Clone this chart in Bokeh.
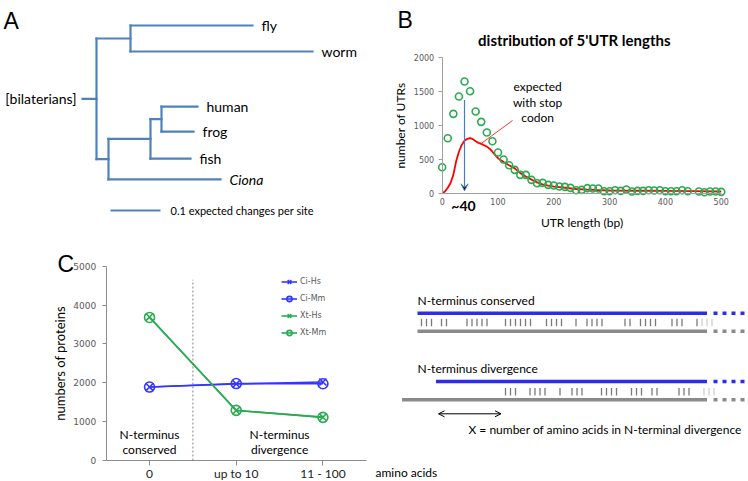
from bokeh.plotting import figure
from bokeh.models import (Range1d, Arrow, VeeHead, OpenHead, Legend, LegendItem,
                          FixedTicker, LinearAxis)
from bokeh.layouts import column, row
from bokeh.embed import file_html
from bokeh.resources import INLINE
from bokeh.core.properties import value

# ---------------- data ----------------
# Panel A: phylogenetic tree (branch lengths in expected changes per site)
tree_nodes = ["root", "prot", "fly", "worm", "deut", "vert", "hf", "human", "frog", "fish", "Ciona"]
tree_parent = [None, "root", "prot", "prot", "root", "deut", "vert", "hf", "hf", "vert", "deut"]
tree_length = [0.028, 0.068, 0.244, 0.364, 0.024, 0.084, 0.022, 0.072, 0.064, 0.080, 0.224]
leaf_rows = {"fly": 0.0, "worm": 1.0, "human": 3.12, "frog": 4.08, "fish": 5.12, "Ciona": 5.92}
root_label = "[bilaterians]"
scale_bar_length = 0.1
scale_bar_text = "0.1 expected changes per site"

# Panel B: 5'UTR length distribution
utr_len = [0, 10, 20, 30, 40, 50, 60, 70, 80, 90,
           100, 110, 120, 130, 140, 150, 160, 170, 180, 190,
           200, 210, 220, 230, 240, 250, 260, 270, 280, 290,
           300, 310, 320, 330, 340, 350, 360, 370, 380, 390,
           400, 410, 420, 430, 440, 460, 470, 480, 490, 500]
utr_count = [382, 809, 1167, 1422, 1642, 1500, 1201, 1049, 892, 765,
             598, 495, 412, 343, 270, 270, 196, 147, 152, 123,
             113, 98, 93, 78, 44, 49, 74, 69, 69, 29,
             29, 44, 34, 54, 25, 34, 34, 44, 39, 44,
             29, 29, 29, 44, 29, 25, 15, 25, 25, 20]
exp_len = [0, 5, 10, 15, 20, 25, 30, 35, 40, 45, 50, 55, 60, 65, 70, 75, 80, 85, 90, 95,
           100, 110, 120, 130, 140, 150, 160, 170, 180, 190, 200, 220, 240, 260, 280,
           300, 350, 400, 450, 500]
exp_count = [0, 25, 80, 150, 270, 470, 610, 710, 770, 800, 810, 795, 765, 740, 725, 705, 685, 655, 610, 560,
             515, 460, 410, 365, 295, 245, 200, 160, 130, 112, 98, 80, 62, 52, 46,
             40, 36, 33, 30, 25]
peak_len = 40
peak_arrow_top = 1370
b_xticks = [0, 100, 200, 300, 400, 500]
b_yticks = [0, 500, 1000, 1500, 2000]
b_title = "distribution of 5'UTR lengths"
exp_text = ["expected", "with stop", "codon"]
exp_text_x = 171
exp_text_y = [1568, 1340, 1112]
exp_pointer_x = [126, 70]
exp_pointer_y = [1069, 731]

# Panel C: numbers of proteins
c_categories = ["0", "up to 10", "11 - 100"]
ci_hs = [1890, 1970, 2020]
ci_mm = [1890, 1980, 1975]
xt_hs = [3690, 1285, 1115]
xt_mm = [3680, 1290, 1110]
c_yticks = [0, 1000, 2000, 3000, 4000, 5000]

# Panel D: schematic alignment (positions in residues)
conserved_marks = [1, 2, 3, 5, 6, 10.1, 11.1, 12.1, 13.1, 14.1,
                   17.8, 18.8, 19.8, 20.8, 21.8, 22.8, 26, 27, 28, 29, 31.9,
                   34.1, 35.1, 36.1, 37.1, 41.7, 42.7, 44.8, 45.8, 46.8, 47.8,
                   51.1, 52.1, 53.1, 56.1]
conserved_faint = [57.1, 58.1, 59.1]
divergence_marks = [17.8, 18.8, 19.8, 22.7, 23.7, 24.7, 25.7, 28.7, 31.1, 32.1, 33.1,
                    37, 38, 39, 40, 43, 44, 45, 47.1, 48.1, 52.5, 53.5, 54.5]
divergence_faint = [57.5, 58.5, 59.5]
blue_start = [0.2, 3.9]
gray_start = [0.2, -2.9]
aligned_end = 58.1
tail_start = 59.4
tail_end = 66.4
divergent_span = [4.4, 16.9]

TREE_BLUE = "#4f81bd"
GREEN = "#2aab52"
CBLUE = "#3535ff"
DBLUE = "#2b2bf2"
DGRAY = "#8a8a8a"
TICKGRAY = "#595959"
AXGRAY = "#a0a0a0"


def base_fig(w, h, xr, yr):
    p = figure(width=w, height=h, x_range=xr, y_range=yr, output_backend="svg",
               toolbar_location=None, min_border=0, x_axis_location=None, y_axis_location=None)
    p.grid.visible = False
    p.outline_line_color = None
    return p


def letter(p, x, y, text):
    p.text(x=[x], y=[y], text=[text], text_font=value("Liberation Sans"), text_font_size="23px",
           text_baseline="alphabetic", text_align="left", text_color="black")


def style_axis(ax, font, size, color, label_size="12px"):
    ax.minor_tick_line_color = None
    ax.major_label_text_font = font
    ax.major_label_text_font_size = size
    ax.major_label_text_color = color
    ax.axis_label_text_font = "Lato"
    ax.axis_label_text_font_size = label_size
    ax.axis_label_text_font_style = "normal"
    ax.axis_label_text_color = "black"


# ---------------- Panel A ----------------
pA = base_fig(374, 240, Range1d(-0.164, 0.584), Range1d((240 - 25) / 26, -25 / 26))

length = dict(zip(tree_nodes, tree_length))
parent = dict(zip(tree_nodes, tree_parent))
children = {n: [] for n in tree_nodes}
for n, pa in zip(tree_nodes, tree_parent):
    if pa:
        children[pa].append(n)
xpos, ypos = {}, {}


def set_x(n, base):
    xpos[n] = base + length[n]
    for c in children[n]:
        set_x(c, xpos[n])


def set_y(n):
    if not children[n]:
        ypos[n] = leaf_rows[n]
    else:
        ys = [set_y(c) for c in children[n]]
        ypos[n] = sum(ys) / len(ys)
    return ypos[n]


set_x("root", 0.0)
set_y("root")

hx0, hx1, hy = [], [], []
for n in tree_nodes:
    hx0.append(xpos[parent[n]] if parent[n] else 0.0)
    hx1.append(xpos[n])
    hy.append(ypos[n])
vx, vy0, vy1 = [], [], []
for n in tree_nodes:
    if children[n]:
        cy = [ypos[c] for c in children[n]]
        vx.append(xpos[n]); vy0.append(min(cy)); vy1.append(max(cy))
pA.segment(x0=hx0, y0=hy, x1=hx1, y1=hy, line_color=TREE_BLUE, line_width=2.2, line_cap="square")
pA.segment(x0=vx, y0=vy0, x1=vx, y1=vy1, line_color=TREE_BLUE, line_width=2.2, line_cap="square")

leaves = [n for n in tree_nodes if not children[n]]
normal_leaves = [n for n in leaves if n != "Ciona"]
pA.text(x=[xpos[n] for n in normal_leaves], y=[ypos[n] for n in normal_leaves], text=normal_leaves,
        x_offset=9, text_font=value("Lato"), text_font_size="14px", text_baseline="middle",
        text_color="black")
pA.text(x=[xpos["Ciona"]], y=[ypos["Ciona"]], text=["Ciona"], x_offset=9,
        text_font=value("Lato"), text_font_size="14px", text_font_style="italic",
        text_baseline="middle", text_color="black")
pA.text(x=[0.0], y=[ypos["root"]], text=[root_label], x_offset=-6, text_align="right",
        text_font=value("Lato"), text_font_size="14px", text_baseline="middle", text_color="black")
sb_y = (210 - 25) / 26
sb_x0 = 0.056
pA.segment(x0=[sb_x0], y0=[sb_y], x1=[sb_x0 + scale_bar_length], y1=[sb_y],
           line_color=TREE_BLUE, line_width=2.2)
pA.text(x=[sb_x0 + scale_bar_length], y=[sb_y], text=[scale_bar_text], x_offset=10,
        text_font=value("Lato"), text_font_size="11px", text_baseline="middle", text_color="black")
letter(pA, -0.158, -0.19, "A")

# ---------------- Panel B ----------------
pB = base_fig(374, 240, Range1d(-121.3, 548.9), Range1d(-695.6, 2833.8))
bx = LinearAxis(fixed_location=0, bounds=(0, 500), ticker=FixedTicker(ticks=b_xticks),
                axis_label="UTR length (bp)")
style_axis(bx, "DejaVu Sans", "8px", TICKGRAY)
bx.axis_line_color = AXGRAY
bx.major_tick_line_color = None
bx.major_tick_out = 0
bx.major_tick_in = 0
bx.major_label_standoff = 5
bx.axis_label_standoff = 6
pB.add_layout(bx, "below")
by = LinearAxis(fixed_location=0, bounds=(0, 2000), ticker=FixedTicker(ticks=b_yticks),
                axis_label="number of UTRs")
style_axis(by, "DejaVu Sans", "8px", TICKGRAY)
by.axis_line_color = AXGRAY
by.major_tick_line_color = AXGRAY
by.major_tick_out = 4
by.major_tick_in = 0
by.major_label_standoff = 4
by.axis_label_standoff = 3
pB.add_layout(by, "left")

pB.line(exp_len, exp_count, line_color="#ff0000", line_width=1.8)
pB.line(exp_pointer_x, exp_pointer_y, line_color="#ff0000", line_width=0.8)
pB.scatter(utr_len, utr_count, marker="circle", size=7, fill_color=None,
           line_color=GREEN, line_width=1.6)
pB.add_layout(Arrow(end=VeeHead(size=7, line_color="#4a7ebb", line_width=1),
                    x_start=peak_len, y_start=peak_arrow_top, x_end=peak_len, y_end=35,
                    line_color="#4a7ebb", line_width=1.2))
pB.text(x=[exp_text_x] * 3, y=exp_text_y, text=exp_text, text_align="center",
        text_baseline="middle", text_font=value("Lato"), text_font_size="12px", text_color="black")
pB.text(x=[peak_len], y=[-181], text=["~" + str(peak_len)], x_offset=-1, text_align="center",
        text_baseline="alphabetic", text_font=value("Lato"), text_font_size="14px",
        text_font_style="bold", text_color="black")
pB.text(x=[237], y=[2246], text=[b_title], text_align="center", text_baseline="alphabetic",
        text_font=value("Lato"), text_font_size="15px", text_font_style="bold", text_color="black")
letter(pB, -80.1, 2540, "B")

# ---------------- Panel C ----------------
pC = base_fig(374, 241, Range1d(-1.719, 2.595), Range1d(-540, 5660))
c_x = list(range(len(c_categories)))
cx = LinearAxis(fixed_location=0, bounds=(-0.5, 2.5), ticker=FixedTicker(ticks=c_x))
style_axis(cx, "Lato", "12px", "#222222")
cx.major_label_overrides = {i: c for i, c in zip(c_x, c_categories)}
cx.major_tick_out = 5
cx.major_tick_in = 0
cx.major_label_standoff = 0
pC.add_layout(cx, "below")
cy = LinearAxis(fixed_location=-0.5, bounds=(0, 5000), ticker=FixedTicker(ticks=c_yticks),
                axis_label="numbers of proteins")
style_axis(cy, "DejaVu Sans", "9px", TICKGRAY, label_size="13px")
cy.major_tick_out = 4
cy.major_tick_in = 0
cy.major_label_standoff = 6
cy.axis_label_standoff = 3
pC.add_layout(cy, "left")
for ax in (cx, cy):
    ax.axis_line_color = "#8c8c8c"
    ax.major_tick_line_color = "#8c8c8c"

pC.segment(x0=[0.5], y0=[0], x1=[0.5], y1=[4650], line_color="#9a9a9a", line_width=1.2,
           line_dash="2 2")
items = []
for name, vals, col, mk in [("Ci-Hs", ci_hs, CBLUE, "x"), ("Ci-Mm", ci_mm, CBLUE, "circle"),
                            ("Xt-Hs", xt_hs, GREEN, "x"), ("Xt-Mm", xt_mm, GREEN, "circle")]:
    rl = pC.line(c_x, vals, line_color=col, line_width=1.6)
    rs = pC.scatter(c_x, vals, marker=mk, size=10, fill_color=None, line_color=col, line_width=1.6)
    items.append(LegendItem(label=name, renderers=[rl, rs]))
legend = Legend(items=items, location=(281, 142), border_line_color=None,
                background_fill_alpha=0, label_text_font="DejaVu Sans", label_text_font_size="8px",
                label_text_color=TICKGRAY, glyph_width=16, glyph_height=13, label_height=13,
                spacing=4, padding=0, margin=0, label_standoff=3)
pC.add_layout(legend)
pC.text(x=[0, 0, 1.5, 1.5], y=[669, 283, 669, 283],
        text=["N-terminus", "conserved", "N-terminus", "divergence"],
        text_align="center", text_baseline="middle", text_font=value("Lato"),
        text_font_size="12px", text_color="black")
letter(pC, -1.061, 5068, "C")

# ---------------- Panel D ----------------
pD = base_fig(374, 241, Range1d(-8.4, 66.4), Range1d(241, 0))
blue_y = [72.7, 141.0]
gray_y = [90.7, 159.3]
pD.segment(x0=blue_start, y0=blue_y, x1=[aligned_end] * 2, y1=blue_y, line_color=DBLUE,
           line_width=3.6, line_cap="butt")
pD.segment(x0=gray_start, y0=gray_y, x1=[aligned_end] * 2, y1=gray_y, line_color=DGRAY,
           line_width=3.6, line_cap="butt")
pD.segment(x0=[tail_start] * 2, y0=blue_y, x1=[tail_end] * 2, y1=blue_y, line_color=DBLUE,
           line_width=3.6, line_dash="4 5", line_cap="butt")
pD.segment(x0=[tail_start] * 2, y0=gray_y, x1=[tail_end] * 2, y1=gray_y, line_color=DGRAY,
           line_width=3.6, line_dash="4 5", line_cap="butt")
for marks, faint, y0, y1 in [(conserved_marks, conserved_faint, 78.3, 85.7),
                             (divergence_marks, divergence_faint, 147.5, 155.0)]:
    pD.segment(x0=marks, y0=[y0] * len(marks), x1=marks, y1=[y1] * len(marks),
               line_color="#7a7a7a", line_width=1.3)
    pD.segment(x0=faint, y0=[y0] * len(faint), x1=faint, y1=[y1] * len(faint),
               line_color="#cfcfcf", line_width=1.3)
pD.add_layout(Arrow(start=OpenHead(size=6, line_width=1), end=OpenHead(size=6, line_width=1),
                    x_start=divergent_span[0], y_start=173.3, x_end=divergent_span[1], y_end=173.3,
                    line_color="black", line_width=1))
pD.text(x=[0.2, 0.2, 10.4, -8.2], y=[60, 128, 189, 232],
        text=["N-terminus conserved", "N-terminus divergence",
              "X  = number of amino acids in N-terminal divergence", "amino acids"],
        text_align="left", text_baseline="middle", text_font=value("Lato"),
        text_font_size="12px", text_color="black")

layout = column(row(pA, pB), row(pC, pD))
open("out.html", "w").write(file_html(layout, INLINE))
